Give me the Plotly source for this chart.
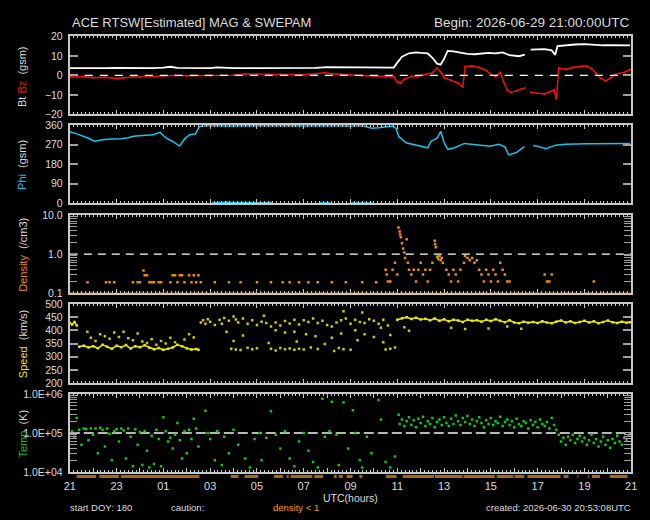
import plotly.graph_objects as go

W, H = 650, 520

# ---------------- data (hours after 2026-06-29 21:00 UTC) ----------------
hour_tick_labels = ["21", "23", "01", "03", "05", "07", "09", "11", "13",
                    "15", "17", "19", "21"]

bt = [(0, 3.7), (0.5, 3.6), (1, 3.7), (1.5, 3.7), (2, 3.8), (2.5, 3.7), (3, 3.6),
      (3.5, 3.7), (4, 4.0), (4.3, 4.4), (4.6, 3.8), (5, 3.7), (5.5, 3.7), (6, 3.7),
      (6.3, 4.1), (6.6, 3.8), (7, 3.7), (7.5, 3.7), (8, 3.7), (8.5, 4.0), (9, 4.0),
      (9.5, 4.0), (10, 4.0), (10.5, 3.8), (11, 4.2), (11.5, 4.2), (12, 4.2), (12.5, 4.2),
      (13, 4.2), (13.5, 4.2), (13.85, 4.0), (14.0, 6.5), (14.2, 9.5), (14.5, 11.3),
      (14.8, 11.8), (15.0, 11.5), (15.3, 11.2), (15.5, 9.0), (15.7, 6.0), (15.85, 5.5),
      (16.0, 8.5), (16.15, 12.5), (16.4, 12.3), (16.7, 11.6), (17.0, 11.0), (17.3, 10.8),
      (17.6, 11.2), (17.9, 11.5), (18.2, 11.3), (18.5, 11.8), (18.8, 10.3), (19.0, 10.0),
      (19.2, 9.8), (19.45, 10.6), (19.55, None), (19.7, 13.2), (20.0, 13.3), (20.3, 13.4),
      (20.6, 12.8), (20.75, 10.5), (20.85, 15.0), (21.2, 15.5), (21.6, 15.8), (22.0, 16.0),
      (22.4, 15.6), (22.8, 15.4), (23.2, 15.5), (23.6, 15.2), (23.95, 15.3)]

bz = [(0, -0.7), (0.3, -0.9), (0.6, -0.6), (1, -1.2), (1.5, -1.0), (2, -1.6), (2.3, -1.2),
      (2.7, -0.8), (3, -0.9), (3.5, -0.5), (4, -0.3), (4.5, 0.0), (5, -0.2), (5.5, -0.1),
      (6, -0.3), (6.5, -0.1), (7, 0.1), (7.5, 0.7), (8, 0.6), (8.5, 0.5), (9, 0.6),
      (9.5, 0.4), (10, 0.4), (10.5, 0.8), (10.9, 1.4), (11.2, 0.8), (11.6, 0.4), (12, 0.2),
      (12.5, -0.1), (13, -0.3), (13.5, -0.4), (13.85, -0.7), (14.0, -3.5), (14.15, -4.0),
      (14.3, -2.0), (14.6, -0.5), (14.9, -0.3), (15.2, 0.5), (15.5, 1.3), (15.7, 3.8),
      (15.9, 1.0), (16.0, -1.2), (16.3, -2.5), (16.6, -4.0), (16.8, -6.0), (16.9, 4.5),
      (17.2, 4.8), (17.5, 4.0), (17.8, 2.5), (18.0, 0.5), (18.2, -0.5), (18.4, 1.5),
      (18.55, -3.5), (18.7, -7.5), (18.85, -8.8), (19.1, -8.0), (19.3, -7.0), (19.45, -6.5),
      (19.55, None), (19.7, -8.7), (20.0, -9.2), (20.3, -9.5), (20.5, -8.5), (20.7, -7.5),
      (20.8, -12.0), (20.9, 3.8), (21.2, 3.0), (21.5, 4.0), (21.8, 4.5), (22.1, 4.8),
      (22.3, 3.5), (22.5, 1.0), (22.7, -1.5), (22.9, -2.8), (23.1, -1.5), (23.3, 0.5),
      (23.5, 1.0), (23.7, 1.5), (23.95, 3.0)]

phi = [(0.0, 330), (0.08, 328), (0.3, 320), (0.5, 312), (0.8, 300), (1.05, 286), (1.47, 294),
       (1.8, 296), (2.18, 297), (2.5, 302), (2.73, 309), (3.1, 312), (3.57, 316), (3.86, 327),
       (4.11, 301), (4.4, 285), (4.7, 264), (4.91, 297), (5.12, 316), (5.37, 319), (5.54, 354),
       (5.8, 358), (6.2, 357), (6.6, 358), (7.0, 356), (7.5, 358), (8.0, 357), (8.5, 358),
       (9.0, 357), (9.5, 358), (10.0, 356), (10.5, 358), (11.0, 357), (11.5, 358), (12.0, 356),
       (12.5, 358), (12.9, 346), (13.2, 348), (13.5, 352), (13.8, 356), (13.95, 345),
       (14.06, 309), (14.37, 279), (14.8, 268), (15.3, 256), (15.44, 286), (15.7, 300),
       (15.86, 331), (16.0, 280), (16.16, 249), (16.45, 256), (16.87, 276), (17.2, 272),
       (17.54, 268), (17.96, 263), (18.34, 272), (18.6, 260), (18.76, 223), (19.09, 234),
       (19.43, 261), (19.6, None), (19.81, 266), (20.0, 263), (20.35, 252), (20.77, 268),
       (21.2, 272), (21.74, 275), (22.1, 274), (22.45, 275), (22.8, 276), (23.2, 274),
       (23.71, 278), (23.95, 276)]

phi_wrapped = [(6.1, 2), (6.4, 4), (6.7, 5), (7.0, 3), (7.4, 2), (7.8, 3), (8.2, 2), (8.6, 4),
               (8.7, None), (10.7, 2), (11.1, 1), (11.2, None), (12.0, 1), (12.5, 2), (12.9, 1)]

density_floor = [(0.0, 24.0)]

density = [(0.76, 0.19), (1.55, 0.19), (1.7, 0.19), (1.9, 0.19), (2.7, 0.19), (2.9, 0.19),
           (3.0, 0.19), (3.15, 0.38), (3.2, 0.29), (3.3, 0.29), (3.4, 0.19), (3.5, 0.19),
           (3.6, 0.19), (3.8, 0.19), (3.9, 0.19), (4.3, 0.19), (4.4, 0.29), (4.5, 0.29),
           (4.6, 0.19), (4.7, 0.29), (4.8, 0.29), (4.9, 0.19), (5.1, 0.29), (5.2, 0.19),
           (5.3, 0.29), (5.4, 0.19), (5.5, 0.29), (5.6, 0.19), (6.2, 0.19), (6.8, 0.19),
           (7.3, 0.19), (8.0, 0.19), (8.6, 0.19), (9.1, 0.19), (9.4, 0.19), (9.8, 0.19),
           (10.2, 0.19), (10.6, 0.19), (11.2, 0.19), (11.8, 0.19), (12.5, 0.19), (13.1, 0.19),
           (13.5, 0.4), (13.55, 0.3), (13.6, 0.2), (13.7, 0.2), (13.8, 0.4), (13.9, 0.6),
           (14.0, 0.3), (14.05, 4.8), (14.1, 3.8), (14.12, 3.2), (14.15, 2.7), (14.2, 1.9),
           (14.25, 1.4), (14.3, 1.1), (14.33, 0.8), (14.4, 2.4), (14.45, 0.6), (14.5, 0.4),
           (14.6, 0.3), (14.7, 0.4), (14.8, 0.2), (14.9, 0.4), (15.0, 0.6), (15.1, 0.3),
           (15.2, 0.4), (15.3, 0.2), (15.4, 0.4), (15.5, 0.6), (15.6, 2.2), (15.62, 1.8),
           (15.65, 1.5), (15.7, 0.86), (15.75, 0.75), (15.8, 0.9), (15.85, 0.7), (15.9, 0.8),
           (15.95, 0.6), (16.1, 0.4), (16.2, 0.3), (16.3, 0.2), (16.4, 0.4), (16.5, 0.3),
           (16.6, 0.2), (16.7, 0.4), (16.85, 0.6), (16.9, 0.9), (17.0, 0.8), (17.1, 0.7),
           (17.2, 0.8), (17.3, 0.6), (17.4, 0.7), (17.5, 0.4), (17.6, 0.3), (17.7, 0.2),
           (17.8, 0.4), (17.9, 0.3), (18.0, 0.2), (18.1, 0.4), (18.2, 0.3), (18.3, 0.2),
           (18.4, 0.6), (18.5, 0.4), (18.6, 0.3), (18.7, 0.2), (18.8, 0.2), (20.3, 0.3),
           (20.4, 0.2), (20.5, 0.2), (20.6, 0.3), (22.4, 0.2)]

speed_band = [(0.0, 428), (0.1, 422), (0.2, 432), (0.3, 418), (0.35, None),
              (0.4, 338), (0.6, 342), (0.8, 335), (1.0, 340), (1.2, 332), (1.4, 345), (1.6, 338),
              (1.8, 330), (2.0, 342), (2.2, 336), (2.4, 344), (2.6, 331), (2.8, 340), (3.0, 336),
              (3.2, 343), (3.4, 334), (3.6, 328), (3.8, 333), (4.0, 326), (4.2, 330), (4.4, 335),
              (4.6, 345), (4.8, 340), (5.0, 332), (5.2, 327), (5.4, 329), (5.5, 326), (5.55, None),
              (14.0, 440), (14.2, 446), (14.4, 450), (14.6, 443), (14.8, 448), (15.0, 441),
              (15.2, 444), (15.4, 438), (15.6, 445), (15.8, 436), (16.0, 442), (16.2, 434),
              (16.4, 440), (16.6, 437), (16.8, 432), (17.0, 440), (17.2, 436), (17.4, 438),
              (17.6, 433), (17.8, 440), (18.0, 435), (18.2, 442), (18.4, 436), (18.6, 431),
              (18.8, 438), (19.0, 430), (19.2, 427), (19.4, 433), (19.6, 429), (19.8, 432),
              (20.0, 428), (20.2, 434), (20.4, 430), (20.6, 427), (20.8, 433), (21.0, 437),
              (21.2, 430), (21.4, 434), (21.6, 428), (21.8, 432), (22.0, 436), (22.2, 430),
              (22.4, 434), (22.6, 427), (22.8, 432), (23.0, 437), (23.2, 431), (23.4, 428),
              (23.6, 433), (23.8, 429), (23.95, 431)]

speed_scatter = [(0.75, 395), (0.9, 372), (1.1, 360), (1.3, 385), (1.5, 378), (1.7, 368),
                 (1.9, 392), (2.1, 375), (2.3, 395), (2.5, 370), (2.7, 362), (2.9, 388),
                 (3.1, 358), (3.3, 352), (3.5, 366), (3.7, 345), (3.9, 360), (4.1, 350),
                 (4.3, 372), (4.5, 355), (4.9, 365), (5.1, 385), (5.3, 373),
                 (5.6, 430), (5.7, 438), (5.8, 425), (5.9, 442), (6.0, 433), (6.2, 420),
                 (6.4, 440), (6.5, 425), (6.6, 447), (6.8, 436), (7.0, 452), (7.1, 441),
                 (7.2, 430), (7.4, 445), (7.6, 425), (7.8, 438), (8.0, 420), (8.2, 433),
                 (8.3, 455), (8.4, 428), (8.6, 415), (8.8, 430), (9.0, 418), (9.2, 435),
                 (9.4, 426), (9.6, 440), (9.8, 422), (10.0, 438), (10.2, 432), (10.4, 445),
                 (10.6, 428), (10.8, 436), (11.0, 420), (11.2, 415), (11.4, 430), (11.6, 438),
                 (11.7, 472), (11.8, 445), (12.0, 425), (12.2, 440), (12.4, 432), (12.5, 468),
                 (12.6, 428), (12.8, 442), (13.0, 436), (13.2, 425), (13.4, 440), (13.6, 418),
                 (6.7, 395), (7.4, 380), (8.8, 400), (9.2, 392), (9.6, 395), (10.1, 385),
                 (10.5, 378), (11.2, 372), (11.6, 388), (12.2, 400), (12.6, 385), (13.0, 375),
                 (13.3, 410), (13.7, 382), (7.0, 360), (8.5, 352), (9.7, 358), (10.9, 348),
                 (12.3, 362), (13.4, 355),
                 (6.9, 330), (7.1, 327), (7.3, 325), (7.6, 334), (7.8, 328), (8.0, 332),
                 (8.6, 330), (8.8, 324), (9.0, 333), (9.2, 328), (9.4, 331), (9.6, 326),
                 (9.8, 330), (10.0, 327), (10.3, 335), (10.6, 329), (11.3, 322), (11.5, 333),
                 (11.7, 328), (12.0, 326), (13.5, 327), (13.7, 330), (13.9, 335),
                 (14.3, 412), (14.5, 398), (16.3, 410), (16.9, 405), (17.9, 407), (18.7, 415),
                 (19.3, 406)]

temperature = [(0.1, 1.1e5), (0.2, 8e4), (0.3, 2.4e5), (0.4, 1.2e5), (0.5, 5e4), (0.6, 1.3e5),
               (0.7, 1.25e5), (0.8, 6.5e4), (0.9, 1.3e5), (1.0, 9e4), (1.1, 1.3e5), (1.2, 3e4),
               (1.3, 1.35e5), (1.4, 1.2e5), (1.5, 4.5e4), (1.6, 1.3e5), (1.7, 9.5e4), (1.8, 2e4),
               (1.9, 1.1e5), (2.0, 1.25e5), (2.1, 6e4), (2.2, 1.3e5), (2.3, 1.15e5), (2.4, 2.2e4),
               (2.5, 1.3e5), (2.6, 8e4), (2.7, 1.4e4), (2.8, 1.25e5), (2.9, 5e4), (3.0, 1.05e5),
               (3.1, 1.5e4), (3.2, 1.1e5), (3.3, 3.5e4), (3.4, 1.3e4), (3.5, 8.5e4), (3.6, 1.6e4),
               (3.7, 1.2e5), (3.8, 7e4), (3.9, 1.4e4), (4.0, 2.5e5), (4.1, 1.1e5), (4.2, 6e4),
               (4.3, 7.5e4), (4.4, 4e4), (4.5, 9e4), (4.6, 1.8e5), (4.7, 6.5e4), (4.8, 2.2e4),
               (4.9, 1.1e5), (5.0, 3e4), (5.1, 1.2e5), (5.2, 7e4), (5.3, 2.3e5), (5.4, 1.3e5),
               (5.5, 4.5e4), (5.8, 3.7e5), (5.9, 1.0e5), (6.0, 7e4), (6.2, 2.0e4), (6.3, 1.1e5),
               (6.5, 1.5e4), (6.6, 8e4), (6.8, 3e4), (7.0, 1.2e5), (7.2, 5e4), (7.5, 2.2e4),
               (7.7, 1.3e4), (7.9, 7e4), (8.1, 1.0e5), (8.2, 2e4), (8.4, 7.5e4), (8.6, 3.6e5),
               (8.8, 9e4), (9.0, 4e4), (9.2, 1.1e5), (9.4, 2.2e4), (9.6, 1.4e4), (9.8, 6e4),
               (10.0, 1.0e5), (10.2, 3.5e4), (10.4, 1.8e4), (10.6, 1.3e4), (10.8, 7.5e5),
               (10.9, 8e4), (11.1, 1.1e5), (11.2, 6.3e5), (11.4, 9e4), (11.5, 1.5e4), (11.7, 6e5),
               (11.9, 4e4), (12.1, 3.8e5), (12.2, 1.0e5), (12.4, 2.0e4), (12.5, 1.3e4),
               (12.7, 8e4), (12.9, 3e4), (13.2, 7e5), (13.3, 2.2e5), (13.5, 1.8e4), (13.7, 1.3e4),
               (13.9, 2.5e4), (14.06, 2.9e5),
               (14.1, 1.7e5), (14.2, 2.2e5), (14.3, 1.5e5), (14.4, 2.0e5), (14.5, 2.5e5),
               (14.6, 1.6e5), (14.7, 2.1e5), (14.8, 1.4e5), (14.9, 2.3e5), (15.0, 1.8e5),
               (15.1, 2.6e5), (15.2, 1.5e5), (15.3, 2.0e5), (15.4, 1.7e5), (15.5, 2.4e5),
               (15.6, 1.4e5), (15.7, 1.9e5), (15.8, 2.2e5), (15.9, 1.6e5), (16.0, 2.5e5),
               (16.1, 1.8e5), (16.2, 1.5e5), (16.3, 2.3e5), (16.4, 1.7e5), (16.5, 2.8e5),
               (16.6, 2.0e5), (16.7, 1.6e5), (16.8, 2.4e5), (16.9, 1.9e5), (17.0, 2.7e5),
               (17.1, 1.7e5), (17.2, 2.2e5), (17.3, 1.5e5), (17.4, 2.0e5), (17.5, 2.5e5),
               (17.6, 1.8e5), (17.7, 1.4e5), (17.8, 2.1e5), (17.9, 1.7e5), (18.0, 2.4e5),
               (18.1, 1.6e5), (18.2, 2.0e5), (18.3, 1.8e5), (18.4, 2.6e5), (18.5, 1.5e5),
               (18.6, 1.9e5), (18.7, 2.2e5), (18.8, 1.6e5), (18.9, 2.0e5), (19.0, 1.4e5),
               (19.1, 2.3e5), (19.2, 1.7e5), (19.3, 1.5e5), (19.4, 2.0e5), (19.5, 1.8e5),
               (19.6, 1.3e5), (19.7, 2.1e5), (19.8, 1.6e5), (19.9, 1.9e5), (20.0, 1.4e5),
               (20.1, 2.2e5), (20.2, 1.7e5), (20.3, 1.5e5), (20.4, 1.9e5), (20.5, 1.3e5),
               (20.6, 2.4e5), (20.7, 1.6e5), (20.8, 1.2e5),
               (20.9, 9e4), (21.0, 6e4), (21.1, 7.5e4), (21.2, 5e4), (21.3, 8e4), (21.4, 6.5e4),
               (21.5, 9e4), (21.6, 5.5e4), (21.7, 7e4), (21.8, 8.5e4), (21.9, 6e4), (22.0, 7.5e4),
               (22.1, 5e4), (22.2, 6.5e4), (22.3, 9e4), (22.4, 5.5e4), (22.5, 7e4), (22.6, 4.5e4),
               (22.7, 6e4), (22.8, 8e4), (22.9, 5e4), (23.0, 6.5e4), (23.1, 4.2e4), (23.2, 7e4),
               (23.3, 5.5e4), (23.4, 8.5e4), (23.5, 6e4), (23.6, 5e4), (23.7, 7.5e4), (23.8, 6.5e4),
               (23.9, 9e4)]

caution_segments = [(0.29, 1.13), (1.26, 2.10), (2.18, 5.54), (6.88, 7.22), (7.47, 8.06),
                    (8.73, 9.11), (9.27, 9.36), (9.44, 10.37), (10.45, 10.83), (11.29, 11.41),
                    (11.50, 11.67), (11.83, 12.09), (12.38, 12.51), (13.51, 13.97),
                    (14.23, 15.57), (15.61, 16.79), (16.83, 18.17), (18.25, 18.97),
                    (19.01, 19.43), (19.56, 20.98), (21.11, 21.32), (21.70, 21.74),
                    (22.16, 22.20), (22.32, 22.66), (23.08, 23.84)]

bz_reference = 0.0
density_reference = 1.0
temperature_reference = 1.0e5

# ---------------- styling ----------------
FONT = "Liberation Sans"
AXC = "#c8c8c8"
TICKC = "#a0a0a0"
TXT = "#dcdcdc"
C_BT, C_BZ, C_PHI = "#ffffff", "#ff1010", "#18c4ec"
C_DEN, C_CAUT, C_SPD, C_TMP = "#e8900c", "#a8680e", "#e8e800", "#12c812"


def unzip(pairs):
    return [p[0] for p in pairs], [p[1] for p in pairs]


def segs(pairs, level):
    xs, ys = [], []
    for a, b in pairs:
        xs += [a, b, None]
        ys += [level, level, None]
    return xs, ys


fig = go.Figure()


def add(pairs, ax, **kw):
    x, y = unzip(pairs)
    fig.add_trace(go.Scatter(x=x, y=y, xaxis="x" + ax, yaxis="y" + ax,
                             showlegend=False, hoverinfo="skip", **kw))


# panel 1
add(bt, "", mode="lines", line=dict(color=C_BT, width=1.8))
add(bz, "", mode="lines+markers", line=dict(color=C_BZ, width=1.4), marker=dict(size=2, color=C_BZ))
fig.add_trace(go.Scatter(x=[0, 24], y=[bz_reference] * 2, mode="lines", xaxis="x", yaxis="y",
                         line=dict(color="#ffffff", width=1.3, dash="8px,7px"),
                         showlegend=False, hoverinfo="skip"))
# panel 2
add(phi, "2", mode="lines", line=dict(color=C_PHI, width=1.5), cliponaxis=False)
add(phi_wrapped, "2", mode="lines+markers", line=dict(color=C_PHI, width=1.5),
    marker=dict(size=2, color=C_PHI), cliponaxis=False)
# panel 3
fx, fy = segs(density_floor, 0.1)
fig.add_trace(go.Scatter(x=fx, y=fy, mode="lines", xaxis="x3", yaxis="y3", cliponaxis=False,
                         line=dict(color=C_DEN, width=1.5, dash="3px,2px"),
                         showlegend=False, hoverinfo="skip"))
fig.add_trace(go.Scatter(x=[0, 24], y=[density_reference] * 2, mode="lines", xaxis="x3", yaxis="y3",
                         line=dict(color="#ffffff", width=1.3, dash="8px,6px"),
                         showlegend=False, hoverinfo="skip"))
add(density, "3", mode="markers", marker=dict(size=2.5, color=C_DEN, symbol="square"))
# panel 4
add(speed_scatter, "4", mode="markers", marker=dict(size=2.5, color="#cccc00", symbol="square"))
add(speed_band, "4", mode="lines+markers", line=dict(color=C_SPD, width=1.6),
    marker=dict(size=2.5, color=C_SPD, symbol="square"))
# panel 5
fig.add_trace(go.Scatter(x=[0, 24], y=[temperature_reference] * 2, mode="lines", xaxis="x5", yaxis="y5",
                         line=dict(color="#b8b8b8", width=2, dash="10px,4px"),
                         showlegend=False, hoverinfo="skip"))
add(temperature, "5", mode="markers", marker=dict(size=2.5, color=C_TMP, symbol="square"))
# caution bar
cx, cy = segs(caution_segments, 0.5)
fig.add_trace(go.Scatter(x=cx, y=cy, mode="lines", xaxis="x6", yaxis="y6",
                         line=dict(color=C_CAUT, width=3), showlegend=False, hoverinfo="skip"))

# ---------------- layout ----------------
panels = [(31, 111), (122, 202), (214, 294), (305, 386), (397, 477)]
xdom = [65 / W, 637 / W]


def ydom(top, bottom):
    return [1 - bottom / H, 1 - top / H]


layout = dict(width=W, height=H, margin=dict(l=0, r=0, t=0, b=0),
              paper_bgcolor="black", plot_bgcolor="black",
              font=dict(family=FONT, color=TXT, size=11))

for i, (top, bot) in enumerate(panels, start=1):
    sfx = "" if i == 1 else str(i)
    last = i == 5
    layout["xaxis" + sfx] = dict(
        domain=xdom, range=[0, 24], anchor="y" + sfx, showline=True, linecolor=AXC, linewidth=2,
        mirror="ticks", ticks="inside", ticklen=4, tickwidth=1, tickcolor=AXC,
        tickvals=list(range(25)),
        ticktext=[hour_tick_labels[k // 2] if k % 2 == 0 else "" for k in range(25)],
        showticklabels=last, tickfont=dict(size=11, color=TXT, family=FONT),
        ticklabelstandoff=3,
        showgrid=False, zeroline=False, fixedrange=True,
        minor=dict(dtick=1 / 6, tick0=0, ticks="inside", ticklen=2, tickcolor=AXC, showgrid=False))
    layout["yaxis" + sfx] = dict(
        domain=ydom(top, bot), anchor="x" + sfx, showline=True, linecolor=AXC, linewidth=2,
        mirror="ticks", ticks="inside", ticklen=8, tickwidth=1.5, tickcolor=TICKC,
        showgrid=False, zeroline=False, tickfont=dict(size=10.5, color=TXT, family=FONT),
        ticklabelstandoff=3)

layout["xaxis3"]["layer"] = "below traces"
layout["yaxis"].update(range=[-20, 20], tickvals=[-20, -10, 0, 10, 20])
layout["yaxis2"].update(range=[0, 360], tickvals=[0, 90, 180, 270, 360])
den_ticks = [m * 10.0 ** e for e in (-1, 0) for m in range(1, 10)] + [10.0]
layout["yaxis3"].update(type="log", range=[-1, 1], tickvals=den_ticks,
                        ticktext=["0.1" if v == 0.1 else "1.0" if v == 1.0 else "10.0" if v == 10.0 else ""
                                  for v in den_ticks], ticklen=7, tickwidth=1)
layout["yaxis4"].update(range=[200, 500], tickvals=list(range(200, 501, 50)))
tmp_ticks = [m * 10.0 ** e for e in (4, 5) for m in range(1, 10)] + [1e6]
layout["yaxis5"].update(type="log", range=[4, 6], tickvals=tmp_ticks,
                        ticktext=["1.0E+04" if v == 1e4 else "1.0E+05" if v == 1e5 else "1.0E+06" if v == 1e6 else ""
                                  for v in tmp_ticks], ticklen=7, tickwidth=1)
layout["xaxis6"] = dict(domain=xdom, range=[0, 24], anchor="y6", visible=False, fixedrange=True)
layout["yaxis6"] = dict(domain=ydom(479, 484), range=[0, 1], anchor="x6", visible=False, fixedrange=True)

fig.update_layout(**layout)


def ann(text, x, y, xanchor="center", size=11, color=TXT, angle=0):
    fig.add_annotation(text=text, x=x / W, y=1 - y / H, xref="paper", yref="paper",
                       xanchor=xanchor, yanchor="middle", showarrow=False, textangle=angle,
                       borderpad=0, font=dict(family=FONT, size=size, color=color))


ann("ACE RTSW[Estimated] MAG &amp; SWEPAM", 66, 17, "left", size=13)
ann("Begin: 2026-06-29 21:00:00UTC", 636, 17, "right", size=13.5)

ylabels = [
    f'Bt <span style="color:{C_BZ}">Bz</span>  (gsm)',
    f'<span style="color:{C_PHI}">Phi</span>  (gsm)',
    f'<span style="color:{C_DEN}">Density</span>  (/cm3)',
    f'<span style="color:{C_SPD}">Speed</span>  (km/s)',
    f'<span style="color:{C_TMP}">Temp</span>  (K)',
]
for (top, bot), lab in zip(panels, ylabels):
    ann(lab, 17, (top + bot) / 2 + 1, size=11, angle=-90)

ann("UTC(hours)", 351, 504, size=10.5)
ann("start DOY: 180", 64, 513, "left", size=9.5)
ann("caution:", 167, 513, "left", size=9.5)
ann("density &lt; 1", 271, 513, "left", size=9.5, color="#ff9a00")
ann("created: 2026-06-30 20:53:08UTC", 638, 513, "right", size=9.5)

fig.write_html("out.html")
